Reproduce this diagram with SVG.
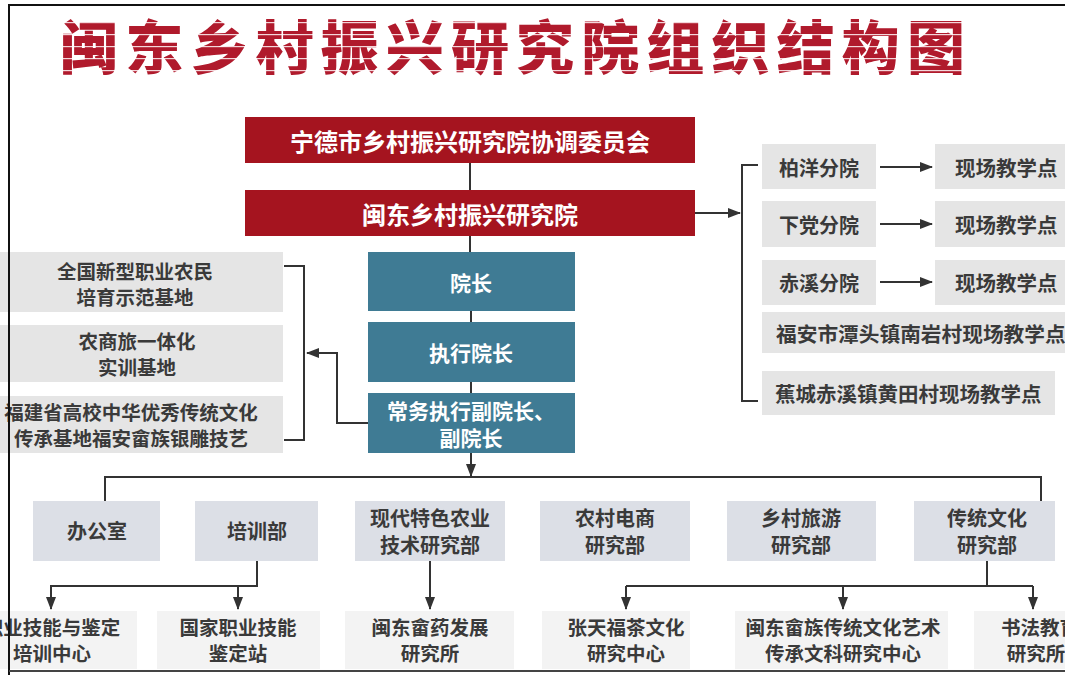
<svg xmlns="http://www.w3.org/2000/svg" width="1065" height="675" viewBox="0 0 1065 675">
<style>
.t{font-family:"Noto Sans CJK SC","Noto Sans",sans-serif;font-weight:700;dominant-baseline:central;text-anchor:middle}
.s{text-anchor:start}
.w{fill:#ffffff}
.d{fill:#3a3a3a}
.red{fill:#a5141f}
.blue{fill:#3f7b94}
.gray{fill:#e5e5e5}
.dept{fill:#dcdfe6}
.sub{fill:#f3f3f3}
.c{fill:none;stroke:#333333;stroke-width:2}
.b{fill:none;stroke:#111111;stroke-width:2}
</style>
<defs>
<marker id="ar" markerUnits="userSpaceOnUse" markerWidth="13" markerHeight="10" refX="12" refY="5" orient="auto">
<path d="M0,0 L13,5 L0,10 z" fill="#333333"/>
</marker>
<pattern id="stripe" patternUnits="userSpaceOnUse" width="20" height="12">
<rect width="20" height="12" fill="#b01a2c"/>
<rect y="10" width="20" height="1.2" fill="#f4d6da"/>
</pattern>
</defs>
<rect width="1065" height="675" fill="#ffffff"/>

<g id="title">
<text x="60" y="44" textLength="905" lengthAdjust="spacing" style="font-family:'Noto Sans CJK SC',sans-serif;font-weight:900;font-size:58px;dominant-baseline:central" fill="url(#stripe)">闽东乡村振兴研究院组织结构图</text>
</g>

<g id="connectors">
<path class="c" d="M470,163 V190"/>
<path class="c" d="M470,236 V252"/>
<path class="c" d="M471,311 V322"/>
<path class="c" d="M471,382 V393"/>
<path class="c" d="M471,453 V476" marker-end="url(#ar)"/>
<path class="c" d="M105,501 V477 H1041 V501"/>
<path class="c" d="M368,423 H337 V353 H307" marker-end="url(#ar)"/>
<path class="c" d="M284,266 H304 V440 H284"/>
<path class="c" d="M695,213 H740" marker-end="url(#ar)"/>
<path class="c" d="M758,165 H742 V401 H758"/>
<path class="c" d="M880,167 H932" marker-end="url(#ar)"/>
<path class="c" d="M880,224 H932" marker-end="url(#ar)"/>
<path class="c" d="M880,282 H932" marker-end="url(#ar)"/>
<path class="c" d="M257,561 V586 H51 V609" marker-end="url(#ar)"/>
<path class="c" d="M238,586 V609" marker-end="url(#ar)"/>
<path class="c" d="M430,561 V609" marker-end="url(#ar)"/>
<path class="c" d="M987,561 V586"/>
<path class="c" d="M626,586 H1033"/>
<path class="c" d="M626,586 V609" marker-end="url(#ar)"/>
<path class="c" d="M843,586 V609" marker-end="url(#ar)"/>
<path class="c" d="M1033,586 V609" marker-end="url(#ar)"/>
</g>

<g id="n-committee"><rect class="red" x="245" y="117" width="450" height="46"/><text class="t w" x="470" y="140" font-size="24">宁德市乡村振兴研究院协调委员会</text></g>
<g id="n-institute"><rect class="red" x="245" y="190" width="450" height="46"/><text class="t w" x="470" y="213" font-size="24">闽东乡村振兴研究院</text></g>

<g id="n-president"><rect class="blue" x="368" y="252" width="207" height="59"/><text class="t w" x="471" y="282" font-size="21">院长</text></g>
<g id="n-exec"><rect class="blue" x="368" y="322" width="207" height="60"/><text class="t w" x="471" y="352" font-size="21">执行院长</text></g>
<g id="n-vice"><rect class="blue" x="368" y="393" width="207" height="60"/><text class="t w" font-size="21"><tspan x="471" y="410">常务执行副院长、</tspan><tspan x="471" dy="27">副院长</tspan></text></g>

<g id="n-base1"><rect class="gray" x="0" y="252" width="283" height="60"/><text class="t d" font-size="19.5"><tspan x="135" y="270">全国新型职业农民</tspan><tspan x="135" dy="26">培育示范基地</tspan></text></g>
<g id="n-base2"><rect class="gray" x="0" y="325" width="283" height="57"/><text class="t d" font-size="19.5"><tspan x="137" y="340">农商旅一体化</tspan><tspan x="137" dy="26">实训基地</tspan></text></g>
<g id="n-base3"><rect class="gray" x="0" y="396" width="283" height="57"/><text class="t d" font-size="19.5"><tspan x="131" y="411">福建省高校中华优秀传统文化</tspan><tspan x="131" dy="26">传承基地福安畲族银雕技艺</tspan></text></g>

<g id="n-baiyang"><rect class="gray" x="762" y="144" width="114" height="45"/><text class="t d" x="819" y="167" font-size="20">柏洋分院</text></g>
<g id="n-xiadang"><rect class="gray" x="762" y="201" width="114" height="46"/><text class="t d" x="819" y="224" font-size="20">下党分院</text></g>
<g id="n-chixi"><rect class="gray" x="762" y="260" width="114" height="45"/><text class="t d" x="819" y="282" font-size="20">赤溪分院</text></g>
<g id="n-site1"><rect class="gray" x="935" y="144" width="130" height="45"/><text class="t d s" x="955" y="167" font-size="20.5">现场教学点</text></g>
<g id="n-site2"><rect class="gray" x="935" y="201" width="130" height="46"/><text class="t d s" x="955" y="224" font-size="20.5">现场教学点</text></g>
<g id="n-site3"><rect class="gray" x="935" y="260" width="130" height="45"/><text class="t d s" x="955" y="282" font-size="20.5">现场教学点</text></g>
<g id="n-nanyan"><rect class="gray" x="762" y="312" width="303" height="41"/><text class="t d s" x="776" y="333" font-size="20.7">福安市潭头镇南岩村现场教学点</text></g>
<g id="n-huangtian"><rect class="gray" x="762" y="371" width="293" height="44"/><text class="t d s" x="775" y="393" font-size="20.5">蕉城赤溪镇黄田村现场教学点</text></g>

<g id="n-office"><rect class="dept" x="33" y="501" width="127" height="60"/><text class="t d" x="97" y="530" font-size="20">办公室</text></g>
<g id="n-training"><rect class="dept" x="195" y="501" width="123" height="60"/><text class="t d" x="257" y="530" font-size="20">培训部</text></g>
<g id="n-agri"><rect class="dept" x="355" y="501" width="150" height="60"/><text class="t d" font-size="20"><tspan x="430" y="517">现代特色农业</tspan><tspan x="430" dy="27">技术研究部</tspan></text></g>
<g id="n-ecom"><rect class="dept" x="540" y="501" width="150" height="60"/><text class="t d" font-size="20"><tspan x="615" y="517">农村电商</tspan><tspan x="615" dy="27">研究部</tspan></text></g>
<g id="n-tour"><rect class="dept" x="727" y="501" width="149" height="60"/><text class="t d" font-size="20"><tspan x="801" y="517">乡村旅游</tspan><tspan x="801" dy="27">研究部</tspan></text></g>
<g id="n-culture"><rect class="dept" x="914" y="501" width="141" height="60"/><text class="t d" font-size="20"><tspan x="987" y="517">传统文化</tspan><tspan x="987" dy="27">研究部</tspan></text></g>

<g id="n-skill"><rect class="sub" x="0" y="611" width="137" height="58"/><text class="t d" font-size="19.5"><tspan x="52" y="626">职业技能与鉴定</tspan><tspan x="52" dy="26">培训中心</tspan></text></g>
<g id="n-station"><rect class="sub" x="157" y="611" width="163" height="58"/><text class="t d" font-size="19.5"><tspan x="238" y="626">国家职业技能</tspan><tspan x="238" dy="26">鉴定站</tspan></text></g>
<g id="n-medicine"><rect class="sub" x="345" y="611" width="169" height="58"/><text class="t d" font-size="19.5"><tspan x="430" y="626">闽东畲药发展</tspan><tspan x="430" dy="26">研究所</tspan></text></g>
<g id="n-tea"><rect class="sub" x="542" y="611" width="148" height="58"/><text class="t d" font-size="19.5"><tspan x="626" y="626">张天福茶文化</tspan><tspan x="626" dy="26">研究中心</tspan></text></g>
<g id="n-she"><rect class="sub" x="735" y="611" width="213" height="58"/><text class="t d" font-size="19.5"><tspan x="843" y="626">闽东畲族传统文化艺术</tspan><tspan x="843" dy="26">传承文科研究中心</tspan></text></g>
<g id="n-calli"><rect class="sub" x="974" y="611" width="91" height="58"/><text class="t d" font-size="19.5"><tspan x="1040" y="626">书法教育</tspan><tspan x="1036" dy="26">研究所</tspan></text></g>

<g id="frame">
<path class="b" d="M9,675 V5 H1065"/>
<path d="M9,671 H1065" fill="none" stroke="#444444" stroke-width="2"/>
</g>
</svg>
